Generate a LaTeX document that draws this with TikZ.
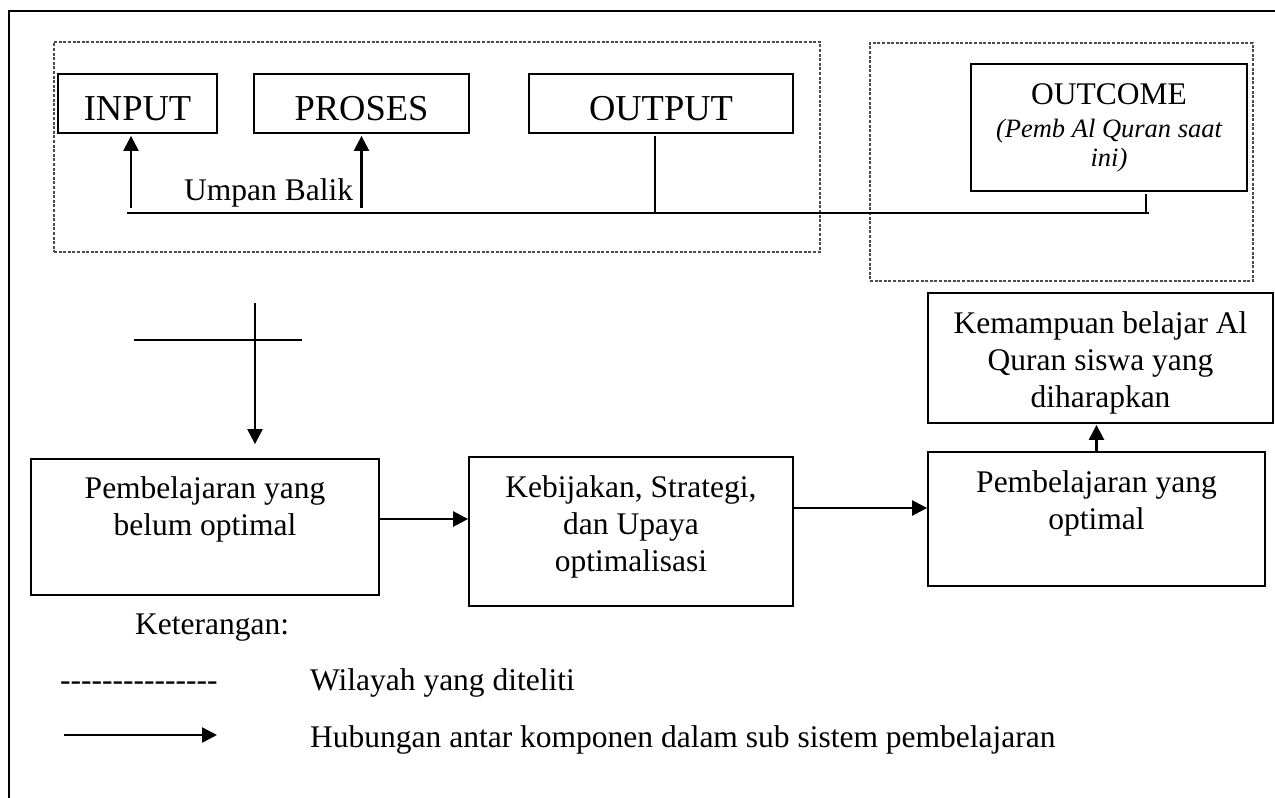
\documentclass[tikz,border=0pt]{standalone}
\usepackage{fontspec}
\setmainfont{Liberation Serif}
\usetikzlibrary{arrows.meta}
\newcommand\fsbody{\fontsize{31.5}{37}\selectfont}
\newcommand\fsbig{\fontsize{36.5}{40}\selectfont}
\newcommand\fsital{\fontsize{26.5}{28.5}\selectfont\itshape}
\begin{document}
\begin{tikzpicture}[x=1pt,y=-1pt,
  box/.style={draw, line width=1.8pt, rectangle, inner sep=0},
  region/.style={draw=black!70, line width=1.2pt, dash pattern=on 3pt off 1.6pt, rectangle, inner sep=0},
  conn/.style={line width=2.4pt},
  arr/.style={line width=2.4pt, -{Triangle[length=15pt,width=15pt]}},
  txt/.style={inner sep=0, align=center, font=\fsbody, anchor=north},
  lbl/.style={inner sep=0, font=\fsbody, anchor=base},
  big/.style={inner sep=0, font=\fsbig, anchor=base},
]
\useasboundingbox (0,0) rectangle (1275,798);

% outer frame (top and left edges)
\coordinate (fr0) at (9,11);
\coordinate (fr1) at (1275,11);
\coordinate (fr2) at (9,798);
\draw[line width=1.8pt] (fr1) -- (fr0) -- (fr2);

% dashed regions
\node[region, minimum width=766, minimum height=210] (reg1) at (437,147) {};
\node[region, minimum width=383, minimum height=238] (reg2) at (1061.5,162) {};

% top boxes
\node[box, minimum width=159, minimum height=59] (in) at (137.5,103.5) {};
\node[box, minimum width=215, minimum height=59] (pr) at (361.5,103.5) {};
\node[box, minimum width=264, minimum height=59] (out) at (661,103.5) {};
\node[box, minimum width=276, minimum height=127] (oc) at (1109,127.5) {};
\node[big] (tin) at (137.5,120) {INPUT};
\node[big] (tpr) at (361.5,120) {PROSES};
\node[big] (tout) at (661,120) {OUTPUT};
\node[lbl] (toc) at (1109,104) {OUTCOME};
\node[inner sep=0, align=center, font=\fsital, anchor=north] (toc2) at (1109,117.5) {\strut(Pemb Al Quran saat\\ini)};

% feedback lines
\coordinate (fbL) at (127,213);
\coordinate (fbR) at (1149,213);
\draw[conn] (fbL) -- (fbR);
\coordinate (a1) at (131,208);
\coordinate (a2) at (361.5,208);
\coordinate (o1) at (655,213);
\coordinate (o2) at (1146,213);
\draw[arr, shorten >=2pt] (a1) -- (a1 |- in.south);
\draw[arr, shorten >=2pt] (a2) -- (a2 |- pr.south);
\draw[conn, shorten >=2pt] (o1) -- (o1 |- out.south);
\draw[conn, shorten >=2pt] (o2) -- (o2 |- oc.south);
\node[lbl, anchor=base west] (ub) at (184,200) {Umpan Balik};

% bottom boxes
\node[box, minimum width=348, minimum height=136] (bel) at (205,527) {};
\node[box, minimum width=324, minimum height=149] (keb) at (631,531.5) {};
\node[box, minimum width=337, minimum height=134] (opt) at (1096.5,519) {};
\node[box, minimum width=345, minimum height=130] (kem) at (1100.5,358) {};
\node[txt] (tbel) at (205,472) {\strut Pembelajaran yang\\belum optimal};
\node[txt] (tkeb) at (631,471) {\strut Kebijakan, Strategi,\\dan Upaya\\optimalisasi};
\node[txt] (topt) at (1096.5,466) {\strut Pembelajaran yang\\optimal};
\node[txt] (tkem) at (1100.5,307) {\strut Kemampuan belajar Al\\Quran siswa yang\\diharapkan};

% cross and arrows
\coordinate (c1) at (255,303);
\coordinate (h1) at (134,340);
\coordinate (h2) at (302,340);
\draw[conn] (h1) -- (h2);
\draw[arr, shorten >=14pt] (c1) -- (c1 |- bel.north);
\draw[arr] ([yshift=8pt]bel.east) -- ([yshift=8pt]bel.east -| keb.west);
\draw[arr] ([yshift=23.5pt]keb.east) -- ([yshift=23.5pt]keb.east -| opt.west);
\draw[arr, shorten >=1pt] (opt.north) -- (opt.north |- kem.south);

% legend
\node[lbl, anchor=base west] (ket) at (135,634) {Keterangan:};
\node[lbl, anchor=base west] (dsh) at (60,690) {-{}-{}-{}-{}-{}-{}-{}-{}-{}-{}-{}-{}-{}-{}-};
\node[lbl, anchor=base west] (wil) at (310,690) {Wilayah yang diteliti};
\coordinate (lg1) at (64,735);
\coordinate (lg2) at (217,735);
\draw[arr] (lg1) -- (lg2);
\node[lbl, anchor=base west] (hub) at (310,747) {Hubungan antar komponen dalam sub sistem pembelajaran};
\end{tikzpicture}
\end{document}
